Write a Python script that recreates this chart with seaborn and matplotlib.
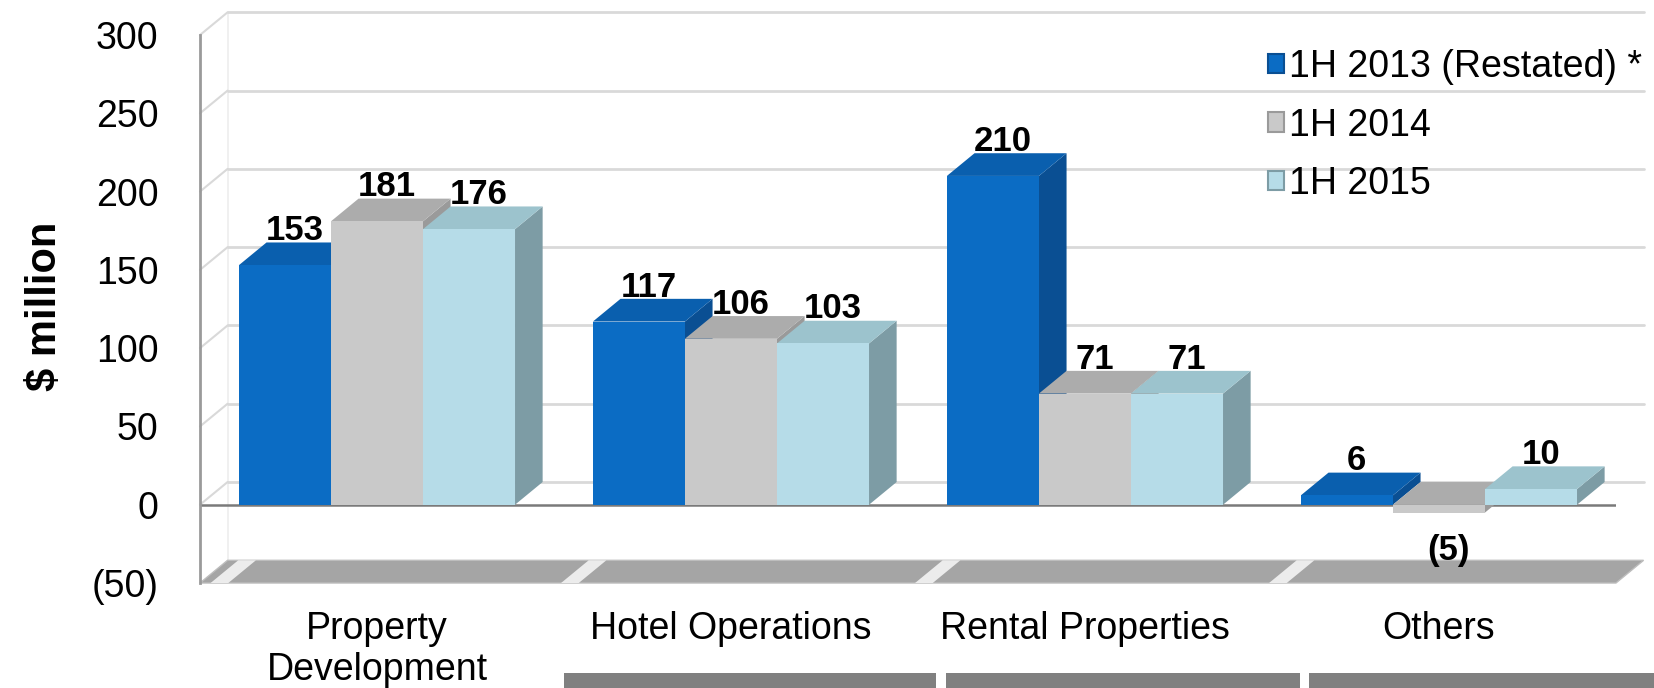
import matplotlib
matplotlib.use("Agg")
import matplotlib.pyplot as plt
from matplotlib.patches import Polygon, Rectangle
import seaborn as sns
import pandas as pd

# ---- data ----
categories = ["Property\nDevelopment", "Hotel Operations", "Rental Properties", "Others"]
periods = ["1H 2013 (Restated) *", "1H 2014", "1H 2015"]
values_2013 = [153, 117, 210, 6]
values_2014 = [181, 106, 71, -5]
values_2015 = [176, 103, 71, 10]
y_ticks = [-50, 0, 50, 100, 150, 200, 250, 300]
y_tick_labels = ["(50)", "0", "50", "100", "150", "200", "250", "300"]

front_colors = ["#0b6cc4", "#c9c9c9", "#b6dce8"]
side_colors = ["#0a4f93", "#9a9a9a", "#7d9ca5"]
top_colors = ["#0a5fae", "#acacac", "#9cc3cd"]

series = [values_2013, values_2014, values_2015]
rows = []
for p, vals in zip(periods, series):
    for c, v in zip(categories, vals):
        rows.append({"category": c, "period": p, "value": v})
df = pd.DataFrame(rows)

sns.set_style("white")
plt.rcParams["font.family"] = ["Liberation Sans", "DejaVu Sans"]
plt.rcParams["text.color"] = "black"
plt.rcParams["xtick.color"] = "black"
plt.rcParams["ytick.color"] = "black"
plt.rcParams["axes.labelcolor"] = "black"

fig = plt.figure(figsize=(16.54, 6.88), dpi=100)
ax = fig.add_axes([0.1209, 0.1526, 0.8561, 0.7965])

DX = 0.078   # depth offset in category units
DY = 14.5    # depth offset in value units

sns.barplot(data=df, x="category", y="value", hue="period", order=categories,
            hue_order=periods, palette=front_colors, saturation=1, width=0.78,
            edgecolor="none", linewidth=0, ax=ax)

ax.set_xlim(-0.5, 3.5)
ax.set_ylim(-50, 300)

# back wall gridlines and left wall diagonals
grid_c = "#d9d9d9"
for v in y_ticks:
    if v == -50:
        continue
    ax.plot([-0.5 + DX, 3.5 + DX], [v + DY, v + DY], color=grid_c, lw=2,
            zorder=0.5, clip_on=False)
    ax.plot([-0.5, -0.5 + DX], [v, v + DY], color=grid_c, lw=1.5,
            zorder=0.5, clip_on=False)
ax.plot([-0.5 + DX, -0.5 + DX], [-50 + DY, 300 + DY], color="#eeeeee", lw=1.2,
        zorder=0.4, clip_on=False)

# floor band at the bottom
floor = Polygon([(-0.5, -50), (3.5, -50), (3.5 + DX, -50 + DY), (-0.5 + DX, -50 + DY)],
                closed=True, facecolor="#a5a5a5", edgecolor="#bdbdbd", lw=1,
                zorder=0.6, clip_on=False)
ax.add_patch(floor)
for b in [-0.47, 0.52, 1.52, 2.52]:
    streak = Polygon([(b, -50), (b + 0.05, -50), (b + 0.05 + DX, -50 + DY), (b + DX, -50 + DY)],
                     closed=True, facecolor="#f4f4f4", edgecolor="none", alpha=0.9,
                     zorder=0.65, clip_on=False)
    ax.add_patch(streak)

# front zero line
ax.plot([-0.5, 3.5], [0, 0], color="#7a7a7a", lw=1.8, zorder=1)

# 3D faces and labels
for i, cont in enumerate(ax.containers[:3]):
    for j, bar in enumerate(cont):
        v = series[i][j]
        x0 = bar.get_x()
        w = bar.get_width()
        x1 = x0 + w
        top = max(v, 0)
        bot = min(v, 0)
        k = j * 3 + i
        zbase = 3 + 0.03 * k
        bar.set_zorder(zbase + 0.02)
        side = Polygon([(x1, bot), (x1 + DX, bot + DY), (x1 + DX, top + DY), (x1, top)],
                       closed=True, facecolor=side_colors[i], edgecolor="none", zorder=zbase)
        topf = Polygon([(x0, top), (x1, top), (x1 + DX, top + DY), (x0 + DX, top + DY)],
                       closed=True, facecolor=top_colors[i], edgecolor="none", zorder=zbase + 0.01)
        ax.add_patch(side)
        ax.add_patch(topf)
        label = f"({abs(v)})" if v < 0 else f"{v}"
        cx = x0 + w / 2 + DX * 0.35
        if v >= 0:
            ax.text(cx, v + DY - 3, label, ha="center", va="bottom", fontsize=25,
                    fontweight="bold", color="black", zorder=10)
        else:
            ax.text(cx, v - 14, label, ha="center", va="top", fontsize=25,
                    fontweight="bold", color="black", zorder=10)

# axes styling
for s in ["top", "right", "bottom"]:
    ax.spines[s].set_visible(False)
ax.spines["left"].set_color("#9a9a9a")
ax.spines["left"].set_linewidth(2)
ax.set_yticks(y_ticks)
ax.set_yticklabels(y_tick_labels)
ax.tick_params(axis="y", length=8, width=1.5, color="#8c8c8c", pad=22, labelsize=27,
               labelcolor="black")
ax.tick_params(axis="x", length=0, pad=20, labelsize=27, labelcolor="black")
ax.set_xlabel("")
ax.set_ylabel("$ million", fontsize=30, fontweight="bold", color="black")
ax.yaxis.set_label_coords(-0.095, 0.505)

handles, labels = ax.get_legend_handles_labels()
for h, c in zip(handles, side_colors):
    h.set_edgecolor(c)
    h.set_linewidth(1.5)
ax.legend(handles, labels, loc="upper left", bbox_to_anchor=(1268 / 1654, 1 - 49 / 688),
          bbox_transform=fig.transFigure, frameon=False, fontsize=27,
          handlelength=0.42, handleheight=0.42, handletextpad=0.15, labelspacing=0.6,
          borderaxespad=0, borderpad=0)

# decorative bars at the very bottom
for x0, x1 in [(564, 936), (946, 1300), (1309, 1654)]:
    fig.patches.append(Rectangle((x0 / 1654, 0), (x1 - x0) / 1654, 15 / 688,
                                 transform=fig.transFigure, facecolor="#808080",
                                 edgecolor="none", figure=fig))

fig.savefig("out.png", dpi=100)
